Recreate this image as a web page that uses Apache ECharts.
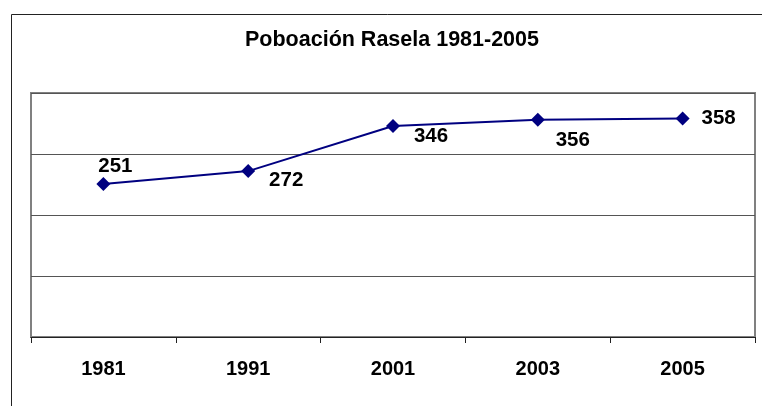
<!DOCTYPE html>
<html>
<head>
<meta charset="utf-8">
<script src="https://cdn.jsdelivr.net/npm/echarts@6/dist/echarts.min.js"></script>
<style>
html,body{margin:0;padding:0;background:#fff;}
#chart{width:762px;height:406px;}
</style>
</head>
<body>
<div id="chart"></div>
<script>
const titleText = 'Poboación Rasela 1981-2005';
const categories = ['1981', '1991', '2001', '2003', '2005'];
const population = [251, 272, 346, 356, 358];
const yTicks = [0, 100, 200, 300, 400];

// label offsets (style only), relative to each marker centre
const labelOffsets = [[12, -18], [38, 9], [38, 10], [35, 21], [36, 0]];

const chart = echarts.init(document.getElementById('chart'));
const font = '"Liberation Sans", Arial, sans-serif';

chart.setOption({
  animation: false,
  backgroundColor: '#ffffff',
  title: {
    text: titleText,
    left: 245,
    top: 29,
    padding: 0,
    textStyle: { fontFamily: font, fontSize: 21.5, fontWeight: 'bold', color: '#000' }
  },
  grid: {
    left: 31, right: 7, top: 93, bottom: 69,
    show: true, borderColor: '#808080', borderWidth: 2, backgroundColor: '#fff'
  },
  graphic: [{
    type: 'rect',
    shape: { x: 11.5, y: 14.5, width: 800, height: 500 },
    style: { fill: null, stroke: '#222', lineWidth: 1 },
    silent: true
  }],
  xAxis: {
    type: 'category',
    data: categories,
    boundaryGap: true,
    axisLine: { lineStyle: { color: '#222', width: 1 } },
    axisTick: { show: true, length: 6, lineStyle: { color: '#222' } },
    axisLabel: { margin: 22, fontFamily: font, fontSize: 20, fontWeight: 'bold', color: '#000' },
    splitLine: { show: false }
  },
  yAxis: {
    type: 'value',
    min: yTicks[0],
    max: yTicks[yTicks.length - 1],
    interval: yTicks[1] - yTicks[0],
    axisLine: { show: false },
    axisTick: { show: false },
    axisLabel: { show: false },
    splitLine: { lineStyle: { color: '#555', width: 1 } }
  },
  series: [{
    type: 'line',
    data: population.map((v, i) => ({
      value: v,
      label: { offset: labelOffsets[i] }
    })),
    symbol: 'diamond',
    symbolSize: 14,
    lineStyle: { color: '#000080', width: 2 },
    itemStyle: { color: '#000080' },
    label: {
      show: true,
      position: 'inside',
      fontFamily: font, fontSize: 20.5, fontWeight: 'bold', color: '#000'
    }
  }]
});
</script>
</body>
</html>
